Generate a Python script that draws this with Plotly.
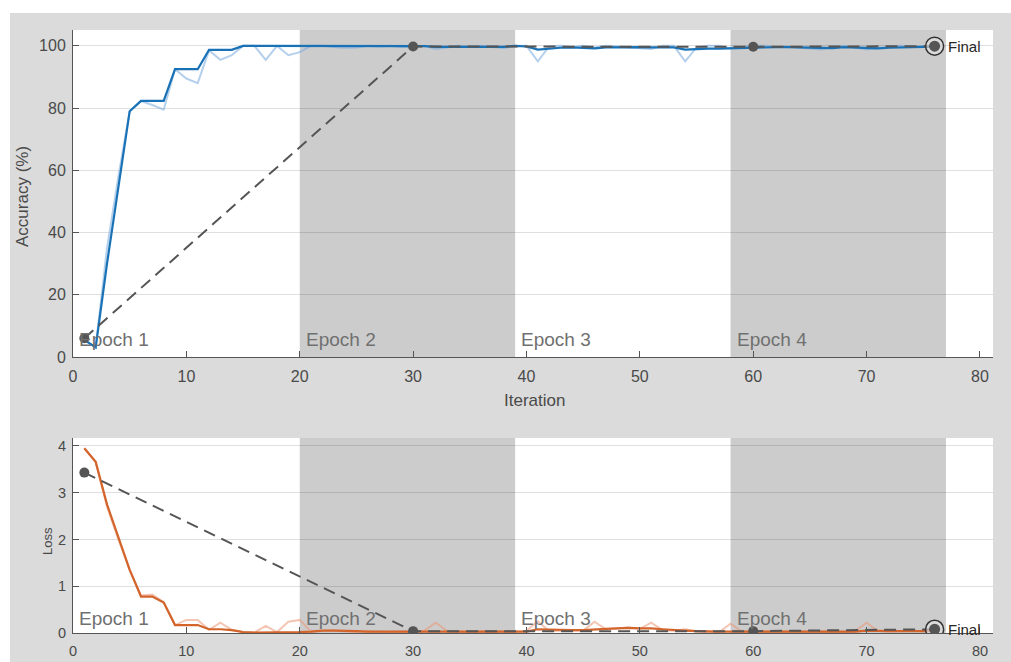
import plotly.graph_objects as go

# ---- training progress data (per iteration) ----
iterations = list(range(1, 77))

acc_raw = [5.5, 3.1, 35, 58, 79, 82.3, 81, 79.5, 92.5, 89.5,
           88, 98.5, 95.5, 97, 100, 100, 95.5, 100, 97, 98,
           100, 100, 99.6, 99.4, 99.5, 100, 99.8, 100, 99.6, 99.6,
           100, 99.0, 99.5, 100, 99.7, 100, 99.6, 99.3, 100, 100,
           95, 99.8, 100, 99.6, 100, 99.5, 100, 99.8, 99.6, 99.2,
           99.0, 100, 100, 95, 99.5, 100, 100, 99.2, 99.6, 100,
           100, 99.6, 99.8, 99.5, 99.2, 98.8, 99.6, 100, 99.5, 98.8,
           99.3, 99.6, 100, 99.6, 99.8, 100]

acc_smooth = [5.5, 3.1, 30, 55, 79, 82.3, 82.3, 82.3, 92.5, 92.5,
              92.5, 98.7, 98.7, 98.7, 100, 100, 100, 100, 100, 100,
              100, 100, 100, 100, 100, 100, 100, 99.9, 99.8, 99.8,
              99.9, 99.7, 99.7, 99.8, 99.8, 99.8, 99.7, 99.7, 100, 99.8,
              98.8, 99.2, 99.4, 99.5, 99.3, 99.2, 99.5, 99.6, 99.6, 99.6,
              99.5, 99.6, 99.5, 98.8, 99.0, 99.1, 99.1, 99.2, 99.5, 99.6,
              99.6, 99.6, 99.6, 99.5, 99.4, 99.2, 99.3, 99.6, 99.5, 99.2,
              99.2, 99.4, 99.6, 99.6, 99.7, 99.7]

loss_raw = [3.95, 3.66, 2.7, 2.0, 1.35, 0.8, 0.82, 0.66, 0.17, 0.28,
            0.28, 0.07, 0.22, 0.07, 0.02, 0.01, 0.15, 0.02, 0.24, 0.28,
            0.03, 0.05, 0.06, 0.03, 0.02, 0.03, 0.02, 0.02, 0.03, 0.02,
            0.05, 0.22, 0.04, 0.02, 0.02, 0.03, 0.02, 0.03, 0.02, 0.05,
            0.25, 0.04, 0.05, 0.06, 0.05, 0.24, 0.08, 0.1, 0.12, 0.09,
            0.22, 0.06, 0.05, 0.08, 0.03, 0.02, 0.02, 0.2, 0.03, 0.02,
            0.03, 0.02, 0.03, 0.04, 0.02, 0.03, 0.03, 0.02, 0.04, 0.22,
            0.04, 0.03, 0.04, 0.05, 0.04, 0.05]

loss_smooth = [3.95, 3.66, 2.75, 2.03, 1.35, 0.78, 0.78, 0.65, 0.17, 0.17,
               0.17, 0.08, 0.08, 0.06, 0.02, 0.01, 0.01, 0.02, 0.02, 0.02,
               0.03, 0.05, 0.05, 0.05, 0.04, 0.03, 0.03, 0.02, 0.02, 0.02,
               0.02, 0.03, 0.03, 0.03, 0.02, 0.02, 0.02, 0.02, 0.02, 0.03,
               0.08, 0.07, 0.06, 0.06, 0.06, 0.08, 0.09, 0.1, 0.11, 0.1,
               0.1, 0.08, 0.06, 0.05, 0.04, 0.03, 0.03, 0.03, 0.03, 0.02,
               0.02, 0.02, 0.02, 0.02, 0.02, 0.02, 0.02, 0.02, 0.03, 0.05,
               0.04, 0.04, 0.04, 0.04, 0.04, 0.04]

# validation checkpoints
val_iter = [1, 30, 60, 76]
val_acc = [6.0, 99.8, 99.7, 99.9]
val_loss = [3.43, 0.04, 0.04, 0.08]

# epoch boundaries and labels
epoch_starts = [0, 20, 39, 58]
epoch_ends = [20, 39, 58, 77]
epoch_labels = ["Epoch 1", "Epoch 2", "Epoch 3", "Epoch 4"]

x_ticks = [0, 10, 20, 30, 40, 50, 60, 70, 80]
acc_ticks = [0, 20, 40, 60, 80, 100]
loss_ticks = [0, 1, 2, 3, 4]

# ---- styling ----
W, H = 1011, 662
FIG_BG = "#dbdbdb"
SHADE = "#cccccc"
AXIS_COL = "#555555"
TICK_COL = "#4a4a4a"
GRID_COL = "rgba(38,38,38,0.15)"
BLUE = "#1a72b6"
BLUE_LIGHT = "rgba(120,170,220,0.55)"
ORANGE = "#d2642c"
ORANGE_LIGHT = "rgba(235,150,115,0.55)"
VAL_COL = "#555555"
VAL_DASH = "12px,7px"
FONT = "Liberation Sans, Arial, sans-serif"


def px_x(p):
    return p / W


def px_y(p):
    return 1 - p / H


fig = go.Figure()


def add_panel(xa, ya, raw, smooth, val, raw_col, smooth_col):
    fig.add_trace(go.Scatter(x=iterations, y=raw, mode="lines",
                             line=dict(color=raw_col, width=2),
                             xaxis=xa, yaxis=ya, hoverinfo="skip"))
    fig.add_trace(go.Scatter(x=iterations, y=smooth, mode="lines",
                             line=dict(color=smooth_col, width=2.2),
                             xaxis=xa, yaxis=ya))
    fig.add_trace(go.Scatter(x=val_iter, y=val, mode="lines+markers",
                             line=dict(color=VAL_COL, width=2, dash=VAL_DASH),
                             marker=dict(color=VAL_COL, size=10),
                             xaxis=xa, yaxis=ya))
    # final checkpoint: ringed marker
    fig.add_trace(go.Scatter(x=val_iter[-1:], y=val[-1:], mode="markers",
                             marker=dict(color="rgba(230,230,230,0.6)", size=18,
                                         line=dict(color="#333333", width=1.5)),
                             xaxis=xa, yaxis=ya))
    fig.add_trace(go.Scatter(x=val_iter[-1:], y=val[-1:], mode="markers",
                             marker=dict(color=VAL_COL, size=11),
                             xaxis=xa, yaxis=ya))


add_panel("x", "y", acc_raw, acc_smooth, val_acc, BLUE_LIGHT, BLUE)
add_panel("x2", "y2", loss_raw, loss_smooth, val_loss, ORANGE_LIGHT, ORANGE)

shapes = [
    # white strips framing the gray figure area
    dict(type="rect", xref="paper", yref="paper", x0=0, x1=px_x(10), y0=0, y1=1,
         fillcolor="white", line=dict(width=0), layer="below"),
    dict(type="rect", xref="paper", yref="paper", x0=0, x1=1, y0=px_y(13), y1=1,
         fillcolor="white", line=dict(width=0), layer="below"),
]
# shaded alternate epochs in both panels
for i, (s, e) in enumerate(zip(epoch_starts, epoch_ends)):
    if i % 2 == 1:
        for xr, yr in (("x", "y domain"), ("x2", "y2 domain")):
            shapes.append(dict(type="rect", xref=xr, yref=yr, x0=s, x1=e,
                               y0=0, y1=1, fillcolor=SHADE,
                               line=dict(width=0), layer="below"))

annotations = []
for s, lab in zip(epoch_starts, epoch_labels):
    annotations.append(dict(x=s, y=5.5, xref="x", yref="y", text=lab,
                            showarrow=False, xanchor="left", yanchor="middle",
                            xshift=4, font=dict(family=FONT, size=19, color="#707070")))
    annotations.append(dict(x=s, y=0.3, xref="x2", yref="y2", text=lab,
                            showarrow=False, xanchor="left", yanchor="middle",
                            xshift=4, font=dict(family=FONT, size=19, color="#707070")))

for xr, yr, v in (("x", "y", val_acc[-1]), ("x2", "y2", val_loss[-1])):
    annotations.append(dict(x=val_iter[-1], y=v, xref=xr, yref=yr,
                            text="Final", showarrow=False, xanchor="left",
                            yanchor="middle", xshift=11,
                            font=dict(family=FONT, size=15, color="#262626")))

# axis titles
annotations.append(dict(x=px_x(22), y=px_y(197), xref="paper", yref="paper",
                        text="Accuracy (%)", showarrow=False, textangle=-90,
                        xanchor="center", yanchor="middle",
                        font=dict(family=FONT, size=17, color=TICK_COL)))
annotations.append(dict(x=px_x(534), y=px_y(400), xref="paper", yref="paper",
                        text="Iteration", showarrow=False,
                        xanchor="center", yanchor="middle",
                        font=dict(family=FONT, size=17, color=TICK_COL)))
annotations.append(dict(x=px_x(47), y=px_y(541), xref="paper", yref="paper",
                        text="Loss", showarrow=False, textangle=-90,
                        xanchor="center", yanchor="middle",
                        font=dict(family=FONT, size=13, color=TICK_COL)))

x_domain = [px_x(73), px_x(993)]
common_x = dict(range=[0, 81.15], tickvals=x_ticks, showgrid=False,
                zeroline=False, showline=True, linecolor=AXIS_COL, linewidth=1,
                ticks="inside", ticklen=6, tickcolor=AXIS_COL, automargin=False,
                ticklabelstandoff=5, fixedrange=True, domain=x_domain)
common_y = dict(showgrid=True, gridcolor=GRID_COL, gridwidth=1, zeroline=False,
                showline=True, linecolor=AXIS_COL, linewidth=1, automargin=False,
                ticks="inside", ticklen=6, tickcolor=AXIS_COL,
                ticklabelstandoff=3, fixedrange=True)

fig.update_layout(
    width=W, height=H,
    margin=dict(l=0, r=0, t=0, b=0),
    paper_bgcolor=FIG_BG,
    plot_bgcolor="white",
    showlegend=False,
    font=dict(family=FONT, color=TICK_COL),
    xaxis=dict(**common_x, anchor="y", tickfont=dict(size=16, color=TICK_COL)),
    yaxis=dict(**common_y, range=[0, 105.1], tickvals=acc_ticks,
               domain=[px_y(357), px_y(30)], anchor="x",
               tickfont=dict(size=16, color=TICK_COL)),
    xaxis2=dict(**common_x, anchor="y2", tickfont=dict(size=14.5, color=TICK_COL)),
    yaxis2=dict(**common_y, range=[0, 4.17], tickvals=loss_ticks,
                domain=[px_y(633), px_y(438)], anchor="x2",
                tickfont=dict(size=14.5, color=TICK_COL)),
    shapes=shapes,
    annotations=annotations,
)

fig.write_html("out.html")
